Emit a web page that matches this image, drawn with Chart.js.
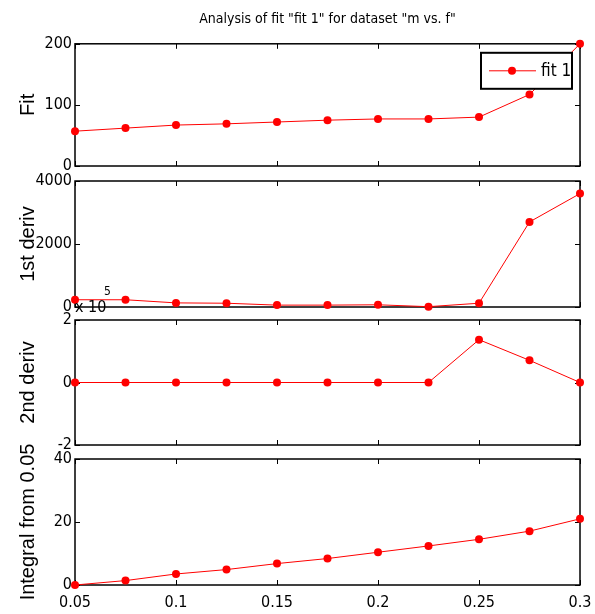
<!DOCTYPE html>
<html>
<head>
<meta charset="utf-8">
<script src="https://cdn.jsdelivr.net/npm/chart.js@4"></script>
<style>
  body { margin: 0; background: #fff; }
  #wrap { position: relative; width: 595px; height: 614px; background: #fff; overflow: hidden; }
  canvas { position: absolute; left: 0; }
</style>
</head>
<body>
<div id="wrap">
  <canvas id="c1" width="595" height="180" style="top:0"></canvas>
  <canvas id="c2" width="595" height="156" style="top:165px"></canvas>
  <canvas id="c3" width="595" height="174" style="top:285px"></canvas>
  <canvas id="c4" width="595" height="171" style="top:443px"></canvas>
</div>
<script>
// data
const xValues = [0.05, 0.075, 0.1, 0.125, 0.15, 0.175, 0.2, 0.225, 0.25, 0.275, 0.3];
const fitValues = [57, 62, 67, 69, 72, 75, 77, 77, 80, 117, 200];
const deriv1Values = [230, 230, 130, 120, 60, 60, 70, 10, 120, 2700, 3600];
const deriv2Values = [0, 0, 0, 0, 0, 0, 0, 0, 137000, 71000, 0];
const integralValues = [0, 1.4, 3.5, 4.9, 6.8, 8.4, 10.4, 12.4, 14.5, 17.1, 21];

const xTicks = [0.05, 0.1, 0.15, 0.2, 0.25, 0.3];
const fitTicks = [0, 100, 200];
const deriv1Ticks = [0, 2000, 4000];
const deriv2Ticks = [-200000, 0, 200000];
const integralTicks = [0, 20, 40];

const NARROW = "'Liberation Sans Narrow', 'DejaVu Sans Condensed', 'Arial Narrow', sans-serif";
const SANS = "'Liberation Sans', Arial, sans-serif";
const RED = '#ff0000';

Chart.defaults.color = '#000';

// matlab style box with inner tick marks
const frame = {
  id: 'frame',
  beforeDatasetsDraw(chart) {
    const { ctx, chartArea: a, scales: { x, y } } = chart;
    ctx.save();
    ctx.strokeStyle = '#000';
    ctx.lineWidth = 1.5;
    ctx.strokeRect(a.left, a.top, a.right - a.left, a.bottom - a.top);
    ctx.lineWidth = 1;
    ctx.beginPath();
    x.ticks.forEach(t => {
      const p = Math.round(x.getPixelForValue(t.value)) + 0.5;
      ctx.moveTo(p, a.top); ctx.lineTo(p, a.top + 5);
      ctx.moveTo(p, a.bottom); ctx.lineTo(p, a.bottom - 5);
    });
    y.ticks.forEach(t => {
      const p = Math.round(y.getPixelForValue(t.value)) + 0.5;
      ctx.moveTo(a.left, p); ctx.lineTo(a.left + 5, p);
      ctx.moveTo(a.right, p); ctx.lineTo(a.right - 5, p);
    });
    ctx.stroke();
    ctx.restore();
  }
};

const fitLegend = {
  id: 'fitLegend',
  afterDraw(chart) {
    const { ctx, chartArea: a } = chart;
    const l = a.right - 99, t = a.top + 9, w = 91, h = 36;
    ctx.save();
    ctx.fillStyle = '#fff';
    ctx.fillRect(l, t, w, h);
    ctx.strokeStyle = '#000';
    ctx.lineWidth = 2;
    ctx.strokeRect(l, t, w, h);
    const my = t + h / 2;
    ctx.strokeStyle = RED;
    ctx.lineWidth = 1;
    ctx.beginPath();
    ctx.moveTo(l + 8, my); ctx.lineTo(l + 55, my);
    ctx.stroke();
    ctx.fillStyle = RED;
    ctx.beginPath();
    ctx.arc(l + 31, my, 4, 0, Math.PI * 2);
    ctx.fill();
    ctx.fillStyle = '#000';
    ctx.font = '17px ' + NARROW;
    ctx.textBaseline = 'middle';
    ctx.fillText('fit 1', l + 60, my + 1);
    ctx.restore();
  }
};

const exponent = {
  id: 'exponent',
  afterDraw(chart) {
    const { ctx, chartArea: a } = chart;
    ctx.save();
    ctx.fillStyle = '#000';
    ctx.font = '16px ' + NARROW;
    ctx.fillText('x 10', a.left, a.top - 8);
    ctx.font = '12px ' + NARROW;
    ctx.fillText('5', a.left + 29, a.top - 25);
    ctx.restore();
  }
};

function makeChart(id, values, yTicks, yLabel, extra) {
  return new Chart(document.getElementById(id), {
    type: 'line',
    data: {
      datasets: [{
        data: xValues.map((x, i) => ({ x: x, y: values[i] })),
        borderColor: RED,
        backgroundColor: RED,
        borderWidth: 1,
        pointRadius: 4,
        pointHoverRadius: 4,
        pointBorderWidth: 0,
        tension: 0,
        clip: false
      }]
    },
    options: {
      responsive: false,
      devicePixelRatio: 1,
      animation: false,
      events: [],
      layout: { padding: extra.padding },
      plugins: {
        legend: { display: false },
        tooltip: { enabled: false },
        title: extra.title || { display: false }
      },
      scales: {
        x: {
          type: 'linear',
          min: 0.05,
          max: 0.3,
          grid: { display: false, drawTicks: false, tickLength: 0 },
          border: { display: false },
          afterBuildTicks: s => { s.ticks = xTicks.map(v => ({ value: v })); },
          ticks: {
            display: !!extra.showX,
            font: { family: NARROW, size: 16 },
            padding: 8,
            maxRotation: 0,
            autoSkip: false,
            callback: v => String(+v.toFixed(2))
          },
          afterFit: s => {
            s.height = extra.showX ? 29 : 0;
            s.paddingLeft = 0;
            s.paddingRight = 0;
          }
        },
        y: {
          min: yTicks[0],
          max: yTicks[yTicks.length - 1],
          grid: { display: false, drawTicks: false, tickLength: 0 },
          border: { display: false },
          afterBuildTicks: s => { s.ticks = yTicks.map(v => ({ value: v })); },
          ticks: {
            font: { family: NARROW, size: 16 },
            padding: 3,
            callback: extra.yFormat || (v => String(v))
          },
          title: {
            display: true,
            text: yLabel,
            font: { family: SANS, size: 20 },
            padding: { top: 16, bottom: 0 }
          },
          afterFit: s => { s.width = 75; }
        }
      }
    },
    plugins: [frame].concat(extra.plugins || [])
  });
}

makeChart('c1', fitValues, fitTicks, 'Fit', {
  padding: { left: 0, right: 15, top: 0, bottom: 14 },
  title: {
    display: true,
    text: 'Analysis of fit "fit 1" for dataset "m vs. f"',
    fullSize: false,
    font: { family: NARROW, size: 14, weight: 'normal' },
    padding: { top: 11, bottom: 16 }
  },
  plugins: [fitLegend]
});

makeChart('c2', deriv1Values, deriv1Ticks, '1st deriv', {
  padding: { left: 0, right: 15, top: 16, bottom: 14 }
});

makeChart('c3', deriv2Values, deriv2Ticks, '2nd deriv', {
  padding: { left: 0, right: 15, top: 35, bottom: 14 },
  yFormat: v => String(v / 1e5),
  plugins: [exponent]
});

makeChart('c4', integralValues, integralTicks, 'Integral from 0.05', {
  padding: { left: 0, right: 15, top: 16, bottom: 0 },
  showX: true
});
</script>
</body>
</html>
